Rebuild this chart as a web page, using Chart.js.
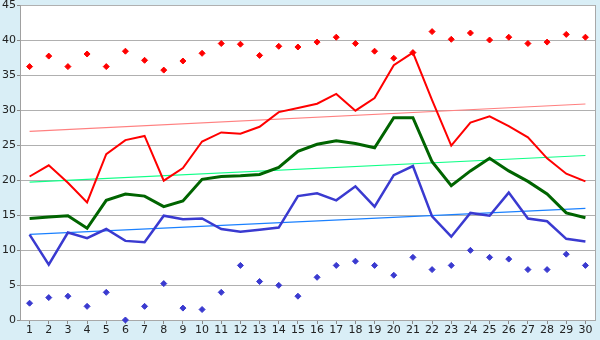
<!DOCTYPE html>
<html>
<head>
<meta charset="utf-8">
<script src="https://cdn.jsdelivr.net/npm/chart.js@4/dist/chart.umd.min.js"></script>
<style>
  html, body { margin: 0; padding: 0; background: #d9eef6; }
  #wrap { width: 600px; height: 340px; position: relative; }
</style>
</head>
<body>
<div id="wrap"><canvas id="c" width="600" height="340"></canvas></div>
<script>
const categories = ['1','2','3','4','5','6','7','8','9','10','11','12','13','14','15','16','17','18','19','20','21','22','23','24','25','26','27','28','29','30'];

const redLine = [20.5, 22.1, 19.6, 16.8, 23.7, 25.7, 26.3, 19.9, 21.7, 25.5, 26.8, 26.6, 27.6, 29.7, 30.3, 30.9, 32.3, 29.9, 31.7, 36.4, 38.2, 31.4, 24.9, 28.2, 29.1, 27.7, 26.1, 23.1, 20.9, 19.8];
const greenLine = [14.5, 14.7, 14.9, 13.1, 17.1, 18.0, 17.7, 16.2, 17.0, 20.1, 20.5, 20.6, 20.8, 21.8, 24.1, 25.1, 25.6, 25.2, 24.6, 28.9, 28.9, 22.6, 19.2, 21.3, 23.1, 21.3, 19.8, 18.0, 15.3, 14.6];
const blueLine = [12.2, 7.9, 12.5, 11.7, 13.0, 11.3, 11.1, 14.9, 14.4, 14.5, 13.0, 12.6, 12.9, 13.2, 17.7, 18.1, 17.1, 19.1, 16.2, 20.7, 22.0, 14.8, 11.9, 15.3, 14.9, 18.2, 14.5, 14.1, 11.6, 11.2];
const redMarks = [36.2, 37.7, 36.2, 38.0, 36.2, 38.4, 37.1, 35.7, 37.0, 38.1, 39.5, 39.4, 37.8, 39.1, 39.0, 39.7, 40.4, 39.5, 38.4, 37.4, 38.2, 41.2, 40.1, 41.0, 40.0, 40.4, 39.5, 39.7, 40.8, 40.4];
const blueMarks = [2.4, 3.2, 3.4, 1.95, 3.95, 0, 1.95, 5.2, 1.7, 1.5, 3.95, 7.8, 5.5, 4.95, 3.4, 6.1, 7.8, 8.4, 7.8, 6.4, 8.95, 7.2, 7.8, 9.95, 8.95, 8.7, 7.2, 7.2, 9.4, 7.8];
// trend line end values (at category 1 and category 30)
const redTrendEnds = [26.95, 30.86];
const greenTrendEnds = [19.7, 23.5];
const blueTrendEnds = [12.24, 15.95];
const yTicks = [0, 5, 10, 15, 20, 25, 30, 35, 40, 45];

function ends(pair) {
  return categories.map((c, i) => i === 0 ? pair[0] : (i === categories.length - 1 ? pair[1] : null));
}

const bgPlugin = {
  id: 'bg',
  beforeDraw(chart) {
    const ctx = chart.ctx, a = chart.chartArea;
    ctx.save();
    ctx.fillStyle = '#d9eef6';
    ctx.fillRect(0, 0, chart.width, chart.height);
    ctx.fillStyle = '#ffffff';
    ctx.fillRect(a.left, a.top, a.right - a.left, a.bottom - a.top);
    ctx.restore();
  },
  afterDatasetsDraw(chart) {
    const ctx = chart.ctx, a = chart.chartArea;
    ctx.save();
    ctx.strokeStyle = '#a8a8a8';
    ctx.lineWidth = 1;
    ctx.beginPath();
    ctx.moveTo(Math.round(a.right) + 0.5, a.top);
    ctx.lineTo(Math.round(a.right) + 0.5, a.bottom);
    ctx.stroke();
    ctx.restore();
  }
};

const lineDs = (data, color, width, order) => ({
  type: 'line', data, borderColor: color, backgroundColor: color,
  borderWidth: width, pointRadius: 0, tension: 0, fill: false, order
});
const markDs = (data, color, order) => ({
  type: 'line', data, showLine: false, borderColor: color, backgroundColor: color,
  pointStyle: 'rectRot', pointRadius: 3, borderWidth: 1, clip: false, order
});
const trendDs = (pair, color, order) => ({
  type: 'line', data: ends(pair), borderColor: color, borderWidth: 1.2,
  pointRadius: 0, spanGaps: true, tension: 0, fill: false, order
});

new Chart(document.getElementById('c'), {
  type: 'line',
  data: {
    labels: categories,
    datasets: [
      lineDs(redLine, '#ff0000', 2, 1),
      lineDs(greenLine, '#006400', 3, 2),
      lineDs(blueLine, '#3a3ad0', 2.5, 3),
      markDs(redMarks, '#ff0000', 0),
      markDs(blueMarks, '#3a3ad0', 0),
      trendDs(redTrendEnds, '#ff8080', 5),
      trendDs(greenTrendEnds, '#11ff88', 5),
      trendDs(blueTrendEnds, '#1a80ff', 5)
    ]
  },
  options: {
    responsive: false,
    animation: false,
    events: [],
    layout: { padding: { top: 5, right: 5, left: 0, bottom: 0 } },
    plugins: { legend: { display: false }, tooltip: { enabled: false } },
    scales: {
      x: {
        type: 'category',
        offset: true,
        grid: { drawOnChartArea: false, drawTicks: true, tickLength: 4, color: '#888888', offset: false },
        border: { display: true, color: '#a8a8a8', width: 1 },
        ticks: { color: '#222222', font: { family: 'DejaVu Sans', size: 11 }, padding: 0, maxRotation: 0, autoSkip: false },
        afterFit(s) { s.height = 20; s.paddingLeft = 0; s.paddingRight = 0; }
      },
      y: {
        min: 0, max: 45,
        afterBuildTicks(s) { s.ticks = yTicks.map(v => ({ value: v })); },
        grid: { color: '#b0b0b0', lineWidth: 1, drawTicks: true, tickLength: 3, tickColor: '#888888' },
        border: { display: true, color: '#a0a0a0', width: 1 },
        ticks: { color: '#222222', font: { family: 'DejaVu Sans', size: 11 }, padding: 1 },
        afterFit(s) { s.width = 20; s.paddingTop = 0; s.paddingBottom = 0; }
      }
    }
  },
  plugins: [bgPlugin]
});
</script>
</body>
</html>
